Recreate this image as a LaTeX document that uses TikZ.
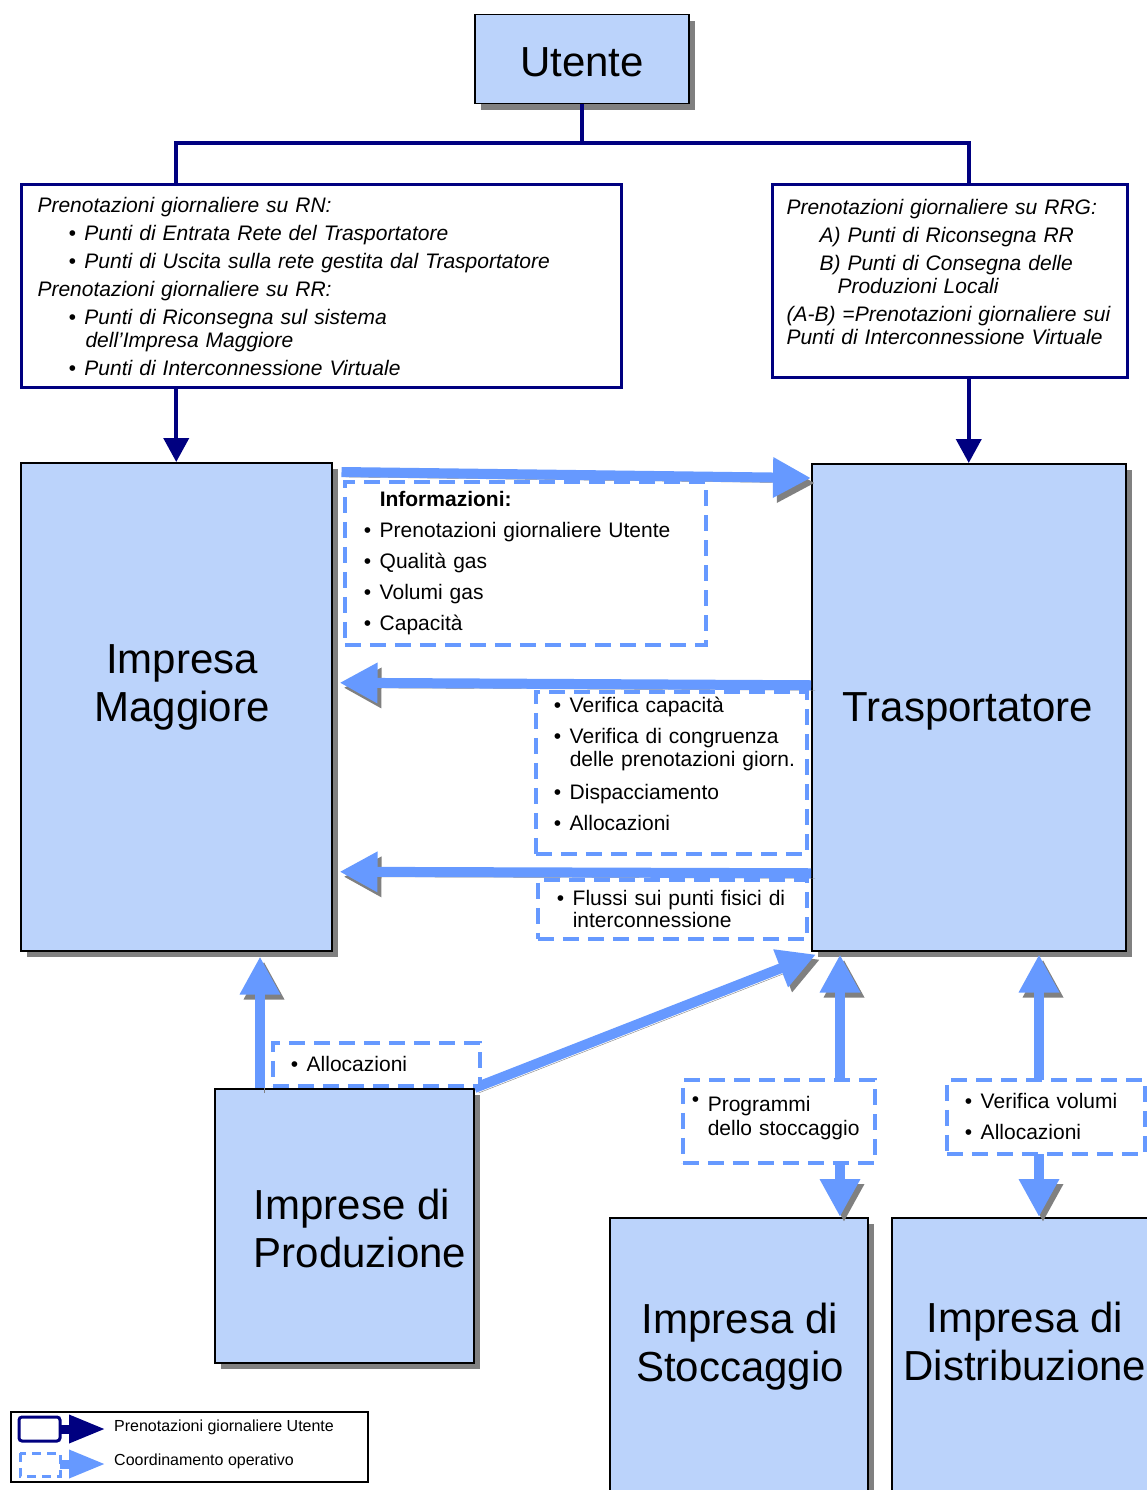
\documentclass[tikz,border=0pt]{standalone}
\usepackage{fontspec}
\setmainfont{Liberation Sans}
\usepackage{tikz}
\usetikzlibrary{arrows.meta,positioning,calc,shadows}
\definecolor{boxblue}{RGB}{187,211,251}
\definecolor{flowblue}{RGB}{102,153,255}
\definecolor{navyblue}{RGB}{0,0,128}
\definecolor{shadegray}{RGB}{128,128,128}
\newcommand{\bul}[1]{\hspace*{#1}\makebox[16pt][l]{\textbullet}}
\tikzset{
  >=Stealth,
  every node/.append style={font=\fontsize{21}{23}\selectfont},
}
\tikzset{
  entity/.style={draw=black, line width=1.5pt, fill=boxblue, anchor=north west, inner sep=0pt,
    drop shadow={shadow xshift=6pt, shadow yshift=-6pt, fill=shadegray, opacity=1}},
  bigtext/.style={font=\fontsize{42}{48}\selectfont, align=center},
  bookbox/.style={draw=navyblue, line width=3pt, anchor=north west, align=left, inner xsep=16pt,
    font=\itshape\fontsize{21}{23}\selectfont},
  infobox/.style={draw=flowblue, fill=white, line width=3.5pt, dash pattern=on 16pt off 9pt,
    anchor=north west, align=left, inner xsep=0pt, inner ysep=0pt},
  bookline/.style={draw=navyblue, line width=4pt},
  bookarrow/.style={draw=navyblue, line width=4pt, -{Triangle[width=25pt,length=24pt]}},
  flow/.style={draw=flowblue, line width=10pt, -{Triangle[width=38pt,length=38pt]},
    preaction={draw=shadegray, transform canvas={shift={(4pt,-5pt)}}}},
  flowboth/.style={flow, {Triangle[width=38pt,length=38pt]}-{Triangle[width=38pt,length=38pt]}}
}

\begin{document}
\begin{tikzpicture}[x=1pt, y=-1pt]
\useasboundingbox (0,0) rectangle (1146,1490);

% --- Utente and daily bookings ---
\node[entity, minimum width=214pt, minimum height=89pt] (utente) at (474,14) {};
\node[bigtext] (utentelabel) at (582,62) {Utente};

\node[bookbox, text width=568pt, minimum height=203pt] (rn) at (20,183) {
  Prenotazioni giornaliere su RN:\\[5pt]
  \bul{31pt}Punti di Entrata Rete del Trasportatore\\[5pt]
  \bul{31pt}Punti di Uscita sulla rete gestita dal Trasportatore\\[5pt]
  Prenotazioni giornaliere su RR:\\[5pt]
  \bul{31pt}Punti di Riconsegna sul sistema\\
  \hspace*{48pt}dell'Impresa Maggiore\\[5pt]
  \bul{31pt}Punti di Interconnessione Virtuale
};
\node[bookbox, inner xsep=14pt, text width=327pt, minimum height=193pt] (rrg) at (771,183) {
  Prenotazioni giornaliere su RRG:\\[5pt]
  \hspace*{33pt}A) Punti di Riconsegna RR\\[5pt]
  \hspace*{33pt}B) Punti di Consegna delle\\
  \hspace*{51pt}Produzioni Locali\\[5pt]
  (A-B) =Prenotazioni giornaliere sui\\
  Punti di Interconnessione Virtuale\\[-4pt]
  \mbox{}
};

% --- Companies ---
\node[entity, minimum width=311pt, minimum height=488pt] (maggiore) at (20,462) {};
\node[entity, minimum width=314pt, minimum height=487pt] (trasp) at (811,463) {};
\node[entity, minimum width=259pt, minimum height=274pt] (produzione) at (214,1088) {};
\node[entity, minimum width=258pt, minimum height=300pt] (stoccaggio) at (609,1217) {};
\node[entity, minimum width=300pt, minimum height=300pt] (distrib) at (891,1217) {};

\node[bigtext] (maggiorelabel) at (182,687) {Impresa\\Maggiore};
\node[bigtext] (trasplabel) at (968,711) {Trasportatore};
\node[bigtext, align=left] (prodlabel) at (360,1228) {Imprese di\\Produzione};
\node[bigtext] (stocclabel) at (740,1347) {Impresa di\\Stoccaggio};
\node[bigtext] (distlabel) at (1025,1341) {Impresa di\\Distribuzione};

% Booking connectors
\coordinate (split) at ($(utente.south)+(0,39)$);
\draw[bookline] (rn.north -| maggiore.north) |- (split) -| (rrg.north -| trasp.north);
\draw[bookline] (utente.south) -- (split);
\draw[bookarrow] (rn.south -| maggiore.north) -- (maggiore.north);
\draw[bookarrow] (rrg.south -| trasp.north) -- (trasp.north);

% --- Operational coordination ---
\draw[flow] ($(maggiore.north east)+(9,10)$) -- ($(trasp.north west)+(0,15)$);
\draw[flow] ($(trasp.west)+(0,-22)$) -- ($(maggiore.east)+(7,-24)$);
\draw[flow] ($(trasp.west)+(0,166)$) -- ($(maggiore.east)+(7,165)$);
\draw[flow] ($(produzione.north west)+(46,0)$) -- ($(maggiore.south west)+(240,5)$);
\draw[flow] (produzione.north east) -- ($(trasp.south west)+(5,3)$);
\draw[flowboth] ($(trasp.south west)+(29,3)$) -- ($(stoccaggio.north west)+(231,0)$);
\draw[flowboth] ($(trasp.south west)+(228,3)$) -- ($(distrib.north west)+(148,0)$);

\node[infobox, text width=361pt, minimum height=163pt] (info) at (343,480) {
  \hspace*{35pt}\textbf{Informazioni:}\\[8pt]
  \bul{19pt}Prenotazioni giornaliere Utente\\[8pt]
  \bul{19pt}Qualità gas\\[8pt]
  \bul{19pt}Volumi gas\\[8pt]
  \bul{19pt}Capacità
};
\node[infobox, text width=271pt, minimum height=162pt] (verifica) at (534,690) {
  \bul{18pt}Verifica capacità\\[8pt]
  \bul{18pt}Verifica di congruenza\\
  \hspace*{34pt}delle prenotazioni giorn.\\[10pt]
  \bul{18pt}Dispacciamento\\[8pt]
  \bul{18pt}Allocazioni\\[-6pt]
  \mbox{}
};
\node[infobox, text width=269pt, minimum height=59pt] (flussi) at (536,878) {
  \bul{19pt}Flussi sui punti fisici di\\[-1pt]
  \hspace*{35pt}interconnessione
};
\node[infobox, text width=207pt, minimum height=43pt] (allocprod) at (271,1041) {
  \bul{18pt}Allocazioni
};
\node[infobox, text width=192pt, minimum height=83pt] (programmi) at (681,1078) {
  \hspace*{9pt}\makebox[16pt][l]{\raisebox{5pt}{\textbullet}}Programmi\\[1pt]
  \hspace*{25pt}dello stoccaggio\\[-13pt]
  \mbox{}
};
\node[infobox, text width=198pt, minimum height=74pt] (volumi) at (945,1078) {
  \bul{18pt}Verifica volumi\\[8pt]
  \bul{18pt}Allocazioni
};

% --- Legend ---
\node[draw, line width=1.5pt, anchor=north west, minimum width=357pt, minimum height=70pt] (legend) at (10,1411) {};
\draw[navyblue, line width=3pt, rounded corners=3pt] (19,1417) rectangle (60,1441);
\draw[navyblue, line width=9pt, -{Triangle[width=26pt,length=37pt]}] (60,1429) -- (106,1429);
\draw[flowblue, line width=3pt, dash pattern=on 9pt off 6pt] (20,1453) rectangle (60,1476);
\draw[flowblue, line width=9pt, -{Triangle[width=26pt,length=37pt]}] (60,1464) -- (106,1464);
\node[anchor=west, inner sep=0pt, font=\fontsize{16}{18}\selectfont] (legbook) at (114,1427) {Prenotazioni giornaliere Utente};
\node[anchor=west, inner sep=0pt, font=\fontsize{16}{18}\selectfont] (legcoord) at (114,1461) {Coordinamento operativo};

\end{tikzpicture}
\end{document}
